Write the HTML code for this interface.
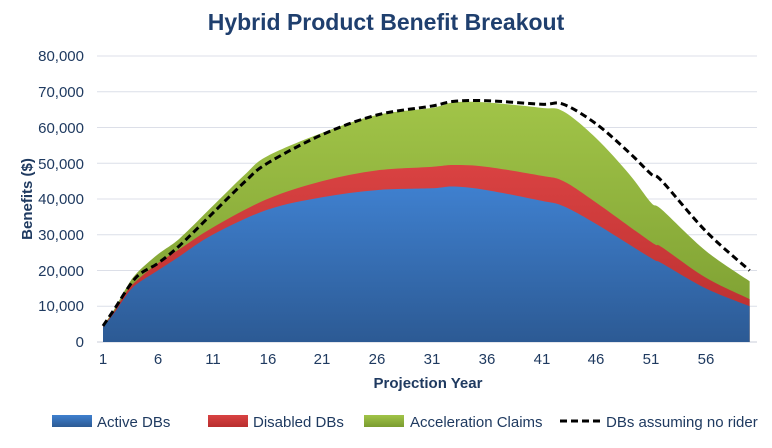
<!DOCTYPE html>
<html><head><meta charset="utf-8"><style>
body{margin:0;background:#fff;width:772px;height:443px;overflow:hidden}
svg text{font-family:"Liberation Sans",Arial,sans-serif;fill:#1f3a60}
</style></head><body>
<svg id="c" width="772" height="443" viewBox="0 0 772 443">
<defs>
<linearGradient id="gb" x1="0" y1="0" x2="0" y2="1"><stop offset="0" stop-color="#3f80cf"/><stop offset="1" stop-color="#2c5a94"/></linearGradient>
<linearGradient id="gr" x1="0" y1="0" x2="0" y2="1"><stop offset="0" stop-color="#d94242"/><stop offset="1" stop-color="#b82e2e"/></linearGradient>
<linearGradient id="gg" x1="0" y1="0" x2="0" y2="1"><stop offset="0" stop-color="#a1c448"/><stop offset="1" stop-color="#7a9c30"/></linearGradient>
</defs>
<text x="386" y="30" text-anchor="middle" font-size="23" font-weight="bold" style="fill:#1f3f6e">Hybrid Product Benefit Breakout</text>
<g id="grid" stroke="#dcdfe8" stroke-width="1"></g>
<g font-size="15" text-anchor="end">
<text x="84" y="61">80,000</text><text x="84" y="97">70,000</text><text x="84" y="133">60,000</text><text x="84" y="169">50,000</text><text x="84" y="204">40,000</text><text x="84" y="240">30,000</text><text x="84" y="276">20,000</text><text x="84" y="311">10,000</text><text x="84" y="347">0</text>
</g>
<text transform="translate(32,199) rotate(-90)" text-anchor="middle" font-size="15" font-weight="bold">Benefits ($)</text>
<g id="areas"></g>
<g font-size="15" text-anchor="middle">
<text x="103" y="364">1</text><text x="158" y="364">6</text><text x="213" y="364">11</text><text x="268" y="364">16</text><text x="322" y="364">21</text><text x="377" y="364">26</text><text x="432" y="364">31</text><text x="487" y="364">36</text><text x="542" y="364">41</text><text x="596" y="364">46</text><text x="651" y="364">51</text><text x="706" y="364">56</text>
</g>
<text x="428" y="388" text-anchor="middle" font-size="15" font-weight="bold">Projection Year</text>
<g font-size="15">
<rect x="52" y="415" width="40" height="12" fill="url(#gb)"/><text x="97" y="427">Active DBs</text>
<rect x="208" y="415" width="40" height="12" fill="url(#gr)"/><text x="253" y="427">Disabled DBs</text>
<rect x="364" y="415" width="40" height="12" fill="url(#gg)"/><text x="410" y="427">Acceleration Claims</text>
<line x1="560" y1="421" x2="600" y2="421" stroke="#000" stroke-width="3" stroke-dasharray="7,4"/><text x="606" y="427">DBs assuming no rider</text>
</g>
</svg>
<script>
var ns="http://www.w3.org/2000/svg";
function X(t){return 103+(t-1)*10.96}
function Y(v){return 342-v*3.575}
var g=document.getElementById('grid');
for(var i=1;i<=8;i++){var l=document.createElementNS(ns,'line');var y=Y(i*10);l.setAttribute('x1',97);l.setAttribute('x2',757);l.setAttribute('y1',y);l.setAttribute('y2',y);g.appendChild(l);}
var bl=document.createElementNS(ns,'line');bl.setAttribute('x1',97);bl.setAttribute('x2',757);bl.setAttribute('y1',342);bl.setAttribute('y2',342);bl.setAttribute('stroke','#c8ccd8');g.appendChild(bl);
var A=[[1,4.2],[2,8],[3,12.5],[4,16],[6,20],[8,24],[11,30],[16,37],[21,40.5],[26,42.5],[31,43],[33,43.5],[36,42.5],[41,39.5],[43,38],[46,33],[51,23.5],[52,22],[56,15],[60,10]];
var R=[[1,4.4],[2,8.5],[3,13.5],[4,17],[6,22],[8,26],[11,32],[16,40],[21,45],[26,48],[31,49],[33,49.5],[36,49],[41,46.5],[43,45],[46,39],[51,28],[52,26.5],[56,18],[60,12]];
var G=[[1,4.5],[2,9],[3,14.5],[4,19],[6,24.5],[8,29],[11,38],[14,47],[16,52],[21,58.5],[26,63.5],[31,65.5],[33,67],[36,67],[41,65.5],[43,64.5],[46,57],[49,47],[51,39],[52,37],[56,25.5],[60,17]];
var D=[[1,4.5],[2,9],[4,18],[6,22],[8,27],[11,36],[14,45],[16,50],[21,58],[26,63.5],[31,66],[33,67.3],[36,67.5],[41,66.5],[43,66.5],[46,61],[49,53],[51,47],[52,45],[56,31],[60,20]];
function path(a){var P=a.map(function(p){return [X(p[0]),Y(p[1])]});var d='M'+P[0][0]+','+P[0][1];
for(var i=0;i<P.length-1;i++){var p0=P[i-1]||P[i],p1=P[i],p2=P[i+1],p3=P[i+2]||p2;
var c1=[p1[0]+(p2[0]-p0[0])/6,p1[1]+(p2[1]-p0[1])/6],c2=[p2[0]-(p3[0]-p1[0])/6,p2[1]-(p3[1]-p1[1])/6];
d+=' C'+c1.join(',')+' '+c2.join(',')+' '+p2.join(',');}return d}
function area(a,f){var p=document.createElementNS(ns,'path');p.setAttribute('d',path(a)+' L'+X(60)+',342 L'+X(1)+',342 Z');p.setAttribute('fill',f);document.getElementById('areas').appendChild(p);}
area(G,'url(#gg)');area(R,'url(#gr)');area(A,'url(#gb)');
var pl=document.createElementNS(ns,'path');pl.setAttribute('d',path(D));pl.setAttribute('fill','none');pl.setAttribute('stroke','#000');pl.setAttribute('stroke-width','3');pl.setAttribute('stroke-dasharray','7,4');document.getElementById('areas').appendChild(pl);
</script>
</body></html>
